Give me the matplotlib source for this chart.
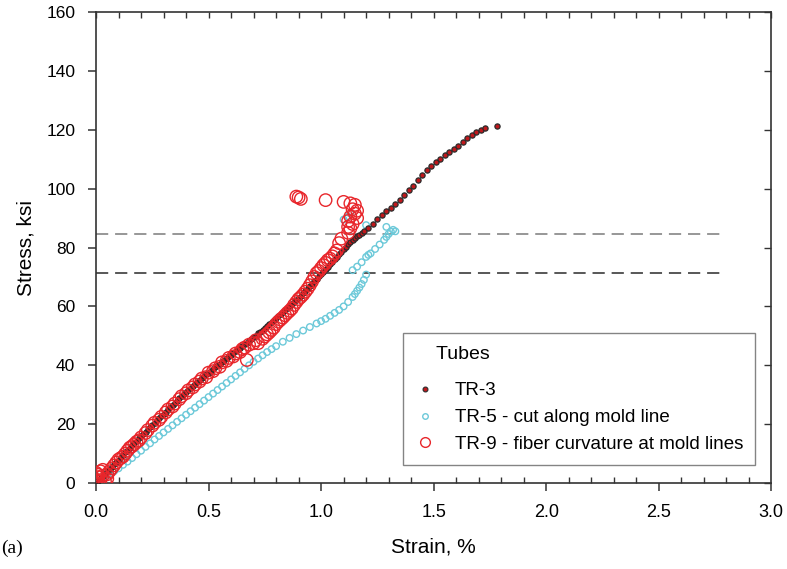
import matplotlib
matplotlib.use("Agg")
import matplotlib.pyplot as plt
from matplotlib.lines import Line2D
from matplotlib.ticker import MultipleLocator, FormatStrFormatter

plt.rcParams['font.family'] = ['Liberation Sans', 'DejaVu Sans']

# TR-3 readings (strain %, stress ksi)
tr3_strain = [0.00, 0.01, 0.02, 0.03, 0.04, 0.05, 0.06, 0.07, 0.08, 0.09,
              0.10, 0.11, 0.12, 0.13, 0.14, 0.15, 0.16, 0.17, 0.18, 0.19,
              0.20, 0.21, 0.22, 0.23, 0.24, 0.25, 0.26, 0.27, 0.28, 0.29,
              0.30, 0.31, 0.32, 0.33, 0.34, 0.35, 0.36, 0.37, 0.38, 0.39,
              0.40, 0.41, 0.42, 0.43, 0.44, 0.45, 0.46, 0.47, 0.48, 0.49,
              0.50, 0.51, 0.52, 0.53, 0.54, 0.55, 0.56, 0.57, 0.58, 0.59,
              0.60, 0.61, 0.62, 0.63, 0.64, 0.65, 0.66, 0.67, 0.68, 0.69,
              0.70, 0.71, 0.72, 0.73, 0.74, 0.75, 0.76, 0.77, 0.78, 0.79,
              0.80, 0.81, 0.82, 0.83, 0.84, 0.85, 0.86, 0.87, 0.88, 0.89,
              0.90, 0.91, 0.92, 0.93, 0.94, 0.95, 0.96, 0.97, 0.98, 0.99,
              1.00, 1.01, 1.02, 1.03, 1.04, 1.05, 1.06, 1.07, 1.08, 1.09,
              1.10, 1.11, 1.12, 1.13, 1.14, 1.15, 1.16, 1.17, 1.18, 1.19,
              1.21, 1.23, 1.25, 1.27, 1.29, 1.31, 1.33, 1.35, 1.37, 1.39,
              1.41, 1.43, 1.45, 1.47, 1.49, 1.51, 1.53, 1.55, 1.57, 1.59,
              1.61, 1.63, 1.65, 1.67, 1.69, 1.71, 1.73, 1.78]
tr3_stress = [0.0, 0.8, 1.6, 2.4, 3.2, 4.0, 4.8, 5.6, 6.4, 7.2,
              8.0, 8.8, 9.6, 10.4, 11.2, 12.0, 12.8, 13.6, 14.4, 15.2,
              16.0, 16.8, 17.5, 18.3, 19.0, 19.8, 20.5, 21.3, 22.0, 22.8,
              23.5, 24.3, 25.0, 25.8, 26.5, 27.3, 28.0, 28.8, 29.5, 30.3,
              31.0, 31.6, 32.3, 33.0, 33.6, 34.3, 34.9, 35.6, 36.2, 36.9,
              37.5, 38.2, 38.8, 39.4, 40.0, 40.6, 41.2, 41.8, 42.4, 43.0,
              43.6, 44.2, 44.8, 45.4, 45.9, 46.5, 47.1, 47.6, 48.2, 48.8,
              49.5, 50.1, 50.8, 51.4, 52.1, 52.7, 53.4, 54.0, 54.7, 55.3,
              56.0, 56.6, 57.3, 58.0, 58.7, 59.4, 60.0, 60.7, 61.5, 62.2,
              63.0, 63.7, 64.5, 65.3, 66.1, 66.9, 67.7, 68.5, 69.4, 70.2,
              71.0, 71.8, 72.7, 73.5, 74.4, 75.2, 76.1, 76.9, 77.8, 78.6,
              79.5, 80.3, 81.1, 81.8, 82.5, 83.2, 83.8, 84.4, 85.0, 85.5,
              86.6, 88.0, 89.6, 91.0, 92.4, 93.5, 94.8, 96.0, 97.7, 99.4,
              101.0, 102.8, 104.6, 106.3, 107.8, 108.9, 109.9, 111.3, 112.5, 113.6,
              114.6, 115.9, 117.2, 118.3, 119.2, 119.9, 120.6, 121.4]

# TR-5 readings
tr5_strain = [0.00, 0.01, 0.02, 0.03, 0.04, 0.05, 0.06, 0.08, 0.10, 0.12, 0.14, 0.16,
              0.18, 0.20, 0.22, 0.24, 0.26, 0.28, 0.30, 0.32, 0.34, 0.36, 0.38, 0.40,
              0.42, 0.44, 0.46, 0.48, 0.50, 0.52, 0.54, 0.56, 0.58, 0.60, 0.62, 0.64,
              0.66, 0.68, 0.70, 0.72, 0.74, 0.76, 0.78, 0.80, 0.83, 0.86, 0.89, 0.92,
              0.95, 0.98, 1.00, 1.02, 1.04, 1.06, 1.08, 1.10, 1.12, 1.14, 1.15, 1.16,
              1.17, 1.18, 1.19, 1.20, 1.14, 1.16, 1.18, 1.20, 1.21, 1.22, 1.24, 1.26,
              1.28, 1.29, 1.30, 1.31, 1.32, 1.33, 1.29, 1.10, 1.12, 1.13, 1.20]
tr5_stress = [0.0, 0.5, 1.0, 1.5, 2.0, 2.5, 3.0, 4.0, 5.0, 6.2, 7.3, 8.5,
              9.8, 11.0, 12.3, 13.5, 14.8, 16.0, 17.2, 18.4, 19.6, 20.8, 22.0, 23.2,
              24.4, 25.6, 26.8, 28.0, 29.2, 30.4, 31.6, 32.8, 34.0, 35.2, 36.4, 37.6,
              38.8, 40.0, 41.2, 42.3, 43.4, 44.5, 45.5, 46.5, 48.0, 49.3, 50.6, 51.8,
              53.0, 54.2, 55.0, 55.8, 56.8, 57.8, 58.8, 60.0, 61.5, 63.2, 64.2, 65.3,
              66.4, 67.6, 69.0, 70.8, 72.3, 73.5, 75.0, 76.8, 77.5, 78.0, 79.5, 81.0,
              82.6, 83.6, 84.6, 85.4, 86.0, 85.5, 87.0, 89.5, 90.5, 91.5, 87.6]

# TR-9 readings
tr9_strain = [0.00, 0.00, 0.01, 0.00, 0.02, 0.03, 0.04, 0.05, 0.06, 0.02, 0.07, 0.01,
              0.03, 0.01, 0.05, 0.08, 0.09, 0.11, 0.12, 0.14, 0.15, 0.17, 0.18, 0.20,
              0.10, 0.13, 0.16, 0.19, 0.22, 0.25, 0.28, 0.31, 0.34, 0.37, 0.40, 0.43,
              0.23, 0.26, 0.29, 0.32, 0.35, 0.38, 0.41, 0.44, 0.47, 0.50, 0.53, 0.56,
              0.46, 0.49, 0.52, 0.55, 0.58, 0.61, 0.64, 0.67, 0.66, 0.70, 0.72, 0.74,
              0.59, 0.62, 0.65, 0.68, 0.71, 0.75, 0.77, 0.79, 0.81, 0.83, 0.85, 0.87,
              0.76, 0.78, 0.80, 0.82, 0.84, 0.86, 0.88, 0.90, 0.92, 0.94, 0.96, 0.97,
              0.89, 0.91, 0.93, 0.95, 0.99, 1.02, 1.04, 1.06,
              0.98, 1.00, 1.01, 1.03, 1.05, 1.07, 1.08, 1.09, 1.12, 1.13, 1.14, 1.12,
              1.13, 1.15, 1.14, 1.16, 1.15, 1.13, 1.10, 1.16, 1.12, 0.89, 0.90, 0.91,
              1.02]
tr9_stress = [0.0, 1.0, 2.0, 3.5, 1.0, 2.5, 0.5, 3.0, 4.0, 4.0, 5.0, 0.5,
              4.5, 2.8, 1.5, 6.0, 7.0, 8.5, 9.0, 11.0, 12.0, 13.2, 14.0, 15.5,
              8.0, 10.0, 12.5, 14.5, 17.0, 19.5, 21.5, 24.0, 26.0, 28.5, 30.5, 32.5,
              18.0, 20.5, 22.5, 25.0, 27.0, 29.5, 31.5, 33.5, 35.5, 37.5, 39.0, 41.0,
              34.5, 36.0, 38.0, 39.5, 41.5, 43.0, 44.5, 41.8, 46.0, 47.5, 47.5, 49.0,
              42.5, 44.0, 45.5, 47.0, 48.5, 49.8, 51.2, 52.8, 54.8, 56.2, 57.8, 59.3,
              50.5, 52.0, 54.0, 55.5, 57.0, 58.5, 60.5, 62.5, 64.0, 66.0, 68.5, 70.0,
              61.5, 63.2, 65.0, 67.2, 72.0, 74.8, 76.2, 78.0,
              71.3, 73.0, 74.0, 75.7, 77.0, 79.0, 81.5, 83.0, 85.0, 86.5, 88.0, 89.0,
              90.5, 91.5, 93.0, 92.5, 94.5, 95.0, 95.5, 90.0, 87.0, 97.3, 97.0, 96.5,
              96.1]

limit_levels = [84.6, 71.3]
limit_colors = ['#7a7a7a', '#2a2a2a']
limit_end = 2.8

fig = plt.figure(figsize=(7.87, 5.69), dpi=100)
ax = fig.add_axes([0.122, 0.151, 0.858, 0.828])

for lev, col in zip(limit_levels, limit_colors):
    ax.plot([0, limit_end], [lev, lev], color=col, lw=1.1, dashes=(8, 4.5), zorder=1)

ax.scatter(tr5_strain, tr5_stress, s=22, facecolors='none', edgecolors='#6cc9d9',
           linewidths=1.0, zorder=2)
ax.scatter(tr3_strain, tr3_stress, s=14, facecolors='#c0181c', edgecolors='#2a2a2a',
           linewidths=0.9, zorder=3)
ax.scatter(tr9_strain, tr9_stress, s=80, facecolors='none', edgecolors='#e8262b',
           linewidths=1.0, zorder=4)

ax.set_xlim(0, 3.0)
ax.set_ylim(0, 160)
ax.xaxis.set_major_locator(MultipleLocator(0.5))
ax.xaxis.set_minor_locator(MultipleLocator(0.1))
ax.yaxis.set_major_locator(MultipleLocator(20))
ax.xaxis.set_major_formatter(FormatStrFormatter('%.1f'))

for s in ax.spines.values():
    s.set_color('#333333')
    s.set_linewidth(1.2)

ax.tick_params(axis='x', which='major', direction='out', length=6, width=1.1,
               colors='#333333', labelcolor='black', labelsize=13, pad=9, top=False)
ax.tick_params(axis='x', which='minor', direction='in', length=4, width=1.0,
               colors='#333333', top=False)
ax.tick_params(axis='y', which='major', direction='out', length=6, width=1.1,
               colors='#333333', labelcolor='black', labelsize=12.5, pad=9, right=False)

top = ax.secondary_xaxis('top')
top.xaxis.set_major_locator(MultipleLocator(0.5))
top.xaxis.set_minor_locator(MultipleLocator(0.1))
top.tick_params(which='both', direction='in', length=4, width=1.0, colors='#333333',
                labeltop=False)
top.spines['top'].set_visible(False)

right = ax.secondary_yaxis('right')
right.yaxis.set_major_locator(MultipleLocator(20))
right.tick_params(which='both', direction='in', length=5, width=1.0, colors='#333333',
                  labelright=False)
right.spines['right'].set_visible(False)

ax.set_xlabel('Strain, %', fontsize=15)
ax.set_ylabel('Stress, ksi', fontsize=15)
ax.xaxis.set_label_coords(0.5, -0.115)
ax.yaxis.set_label_coords(-0.09, 0.5)

handles = [
    Line2D([], [], ls='none', marker='o', ms=3.5, mfc='#c0181c', mec='#2a2a2a', mew=0.8),
    Line2D([], [], ls='none', marker='o', ms=4, mfc='none', mec='#6cc9d9', mew=1.0),
    Line2D([], [], ls='none', marker='o', ms=7, mfc='none', mec='#e8262b', mew=1.0),
]
labels = ['TR-3', 'TR-5 - cut along mold line', 'TR-9 - fiber curvature at mold lines']
leg = ax.legend(handles, labels, title='    Tubes', loc='lower left',
                bbox_to_anchor=(0.455, 0.038), fontsize=13.5, title_fontsize=14,
                alignment='left', frameon=True, fancybox=False, edgecolor='#666666',
                handlelength=1.0, handletextpad=1.1, labelspacing=0.52,
                borderpad=0.65, borderaxespad=0)
leg.get_frame().set_linewidth(1.0)
leg._legend_box.sep = 14

fig.text(0.002, 0.028, '(a)', fontsize=14, family=['Liberation Serif', 'DejaVu Serif'])

fig.savefig('out.png', dpi=100)
